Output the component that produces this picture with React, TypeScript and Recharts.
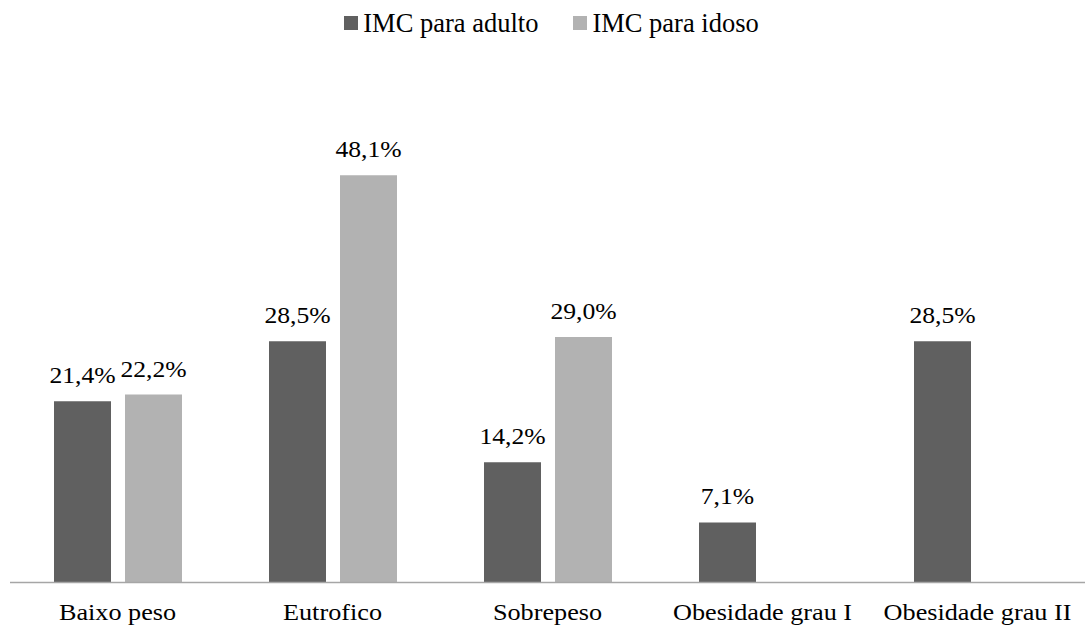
import React from 'react';
import { BarChart, Bar, XAxis, YAxis, Legend, LabelList } from 'recharts';

const categories = ['Baixo peso', 'Eutrofico', 'Sobrepeso', 'Obesidade grau I', 'Obesidade grau II'];
const adultValues: (number | null)[] = [21.4, 28.5, 14.2, 7.1, 28.5];
const elderlyValues: (number | null)[] = [22.2, 48.1, 29.0, null, null];
const seriesNames = ['IMC para adulto', 'IMC para idoso'];
const seriesColors = ['#606060', '#b2b2b2'];

const data = categories.map((name, i) => ({
  name,
  adulto: adultValues[i],
  idoso: elderlyValues[i],
}));

const FONT = 'Liberation Serif, Times New Roman, Tinos, serif';
// the chart text is set slightly wide
const STRETCH = 1.14;

const formatPct = (v: any) => `${Number(v).toFixed(1).replace('.', ',')}%`;

const CategoryTick = (props: any) => {
  const { x, y, payload } = props;
  return (
    <g transform={`translate(${x},${y})`}>
      <text
        x={0}
        y={0}
        dy="0.71em"
        textAnchor="middle"
        transform={`scale(${STRETCH},1)`}
        fill="#000"
        fontFamily={FONT}
        fontSize={23}
      >
        {payload.value}
      </text>
    </g>
  );
};

const ValueLabel = (props: any) => {
  const { x, y, width, value } = props;
  if (value === null || value === undefined) return null;
  const cx = Number(x) + Number(width) / 2;
  const by = Number(y) - 18;
  return (
    <g transform={`translate(${cx},${by})`}>
      <text
        x={0}
        y={0}
        textAnchor="middle"
        transform={`scale(${STRETCH},1)`}
        fill="#000"
        fontFamily={FONT}
        fontSize={22.5}
      >
        {formatPct(value)}
      </text>
    </g>
  );
};

const LegendContent = () => (
  <div
    style={{
      display: 'flex',
      justifyContent: 'center',
      alignItems: 'center',
      height: 40,
      paddingLeft: 8,
      fontFamily: FONT,
      fontSize: 26.5,
      color: '#000',
      whiteSpace: 'nowrap',
    }}
  >
    {seriesNames.map((n, i) => (
      <div key={n} style={{ display: 'flex', alignItems: 'center', marginLeft: i === 0 ? 0 : 35 }}>
        <span
          style={{
            display: 'inline-block',
            width: 14,
            height: 14,
            background: seriesColors[i],
            marginRight: 5,
          }}
        />
        <span>{n}</span>
      </div>
    ))}
  </div>
);

export default function App() {
  return (
    <div style={{ position: 'absolute', left: 0, top: 0, background: '#fff' }}>
      <BarChart
        width={1085}
        height={627}
        data={data}
        margin={{ top: 34.5, right: 0, bottom: 14.5, left: 10 }}
        barSize={57}
        barGap={14}
      >
        <Legend
          verticalAlign="top"
          align="center"
          content={<LegendContent />}
          wrapperStyle={{ top: 3, height: 40 }}
        />
        <XAxis
          dataKey="name"
          tickLine={false}
          tickSize={0}
          tickMargin={21}
          axisLine={{ stroke: '#a6a6a6', strokeWidth: 1.5 }}
          tick={<CategoryTick />}
          interval={0}
        />
        <YAxis hide domain={[0, 60]} />
        <Bar dataKey="adulto" fill={seriesColors[0]} isAnimationActive={false}>
          <LabelList dataKey="adulto" content={<ValueLabel />} />
        </Bar>
        <Bar dataKey="idoso" fill={seriesColors[1]} isAnimationActive={false}>
          <LabelList dataKey="idoso" content={<ValueLabel />} />
        </Bar>
      </BarChart>
    </div>
  );
}
